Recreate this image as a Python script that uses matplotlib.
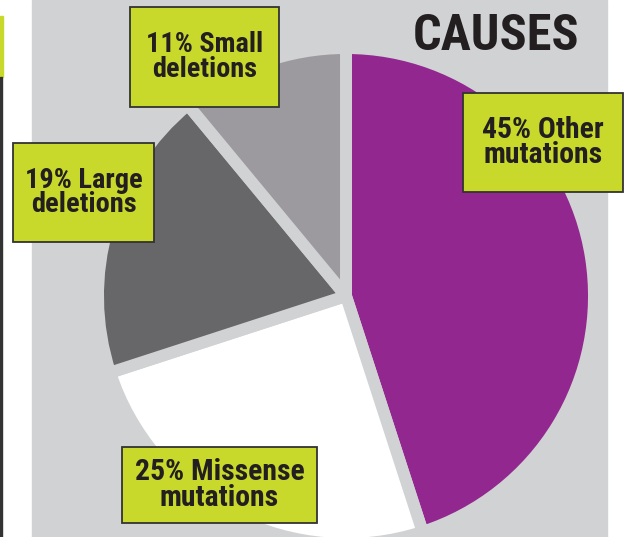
import matplotlib
matplotlib.use("Agg")
import matplotlib.pyplot as plt
from matplotlib import font_manager
from matplotlib.patches import Rectangle

# data
causes = ["Other\nmutations", "Missense\nmutations", "Large\ndeletions", "Small\ndeletions"]
shares = [45, 25, 19, 11]
colors = ["#92278f", "#ffffff", "#676669", "#9c9a9f"]

W, H = 630, 537
BG = "#d1d2d4"
LIME = "#c8d92c"
INK = "#231f20"

# a narrow face looks closer to the poster type, if one is around
installed = {f.name for f in font_manager.fontManager.ttflist}
narrow = [n for n in ["Liberation Sans Narrow", "DejaVu Sans Condensed",
                      "Roboto Condensed", "Open Sans Condensed"] if n in installed]
FONT = narrow[:1] + ["Liberation Sans", "DejaVu Sans"]


def up(y):
    # picture rows run downward, axes y runs upward
    return H - y


def fit(txt, width, size):
    # shrink the text until its widest line is about `width` pixels
    r = fig.canvas.get_renderer()
    w = txt.get_window_extent(r).width
    if w > width:
        txt.set_fontsize(size * width / w)


fig = plt.figure(figsize=(W / 100, H / 100), dpi=100)
ax = fig.add_axes([0, 0, 1, 1])

# grey panel and the thin rules on the far left
ax.add_patch(Rectangle((32, 0), 575, H, color=BG, zorder=0))
ax.add_patch(Rectangle((0, up(77)), 2.5, 61, color=LIME, zorder=0))
ax.add_patch(Rectangle((0, 0), 2, up(77), color="#333333", zorder=0))

ax.pie(shares, colors=colors, startangle=90, counterclock=False,
       center=(346, up(296)), radius=248,
       wedgeprops=dict(edgecolor=BG, linewidth=8.6, joinstyle="bevel"))

# label boxes: (x0, y0, x1, y1) in picture pixels, and the width of the text
boxes = {
    "Other\nmutations": (463, 93, 623, 192, 122),
    "Missense\nmutations": (122, 447, 317, 523, 170),
    "Large\ndeletions": (13, 143, 154, 242, 118),
    "Small\ndeletions": (130, 7, 279, 107, 117),
}
for name, pct in zip(causes, shares):
    x0, y0, x1, y1, tw = boxes[name]
    ax.add_patch(Rectangle((x0, up(y1)), x1 - x0, y1 - y0, facecolor=LIME,
                           edgecolor="#333333", linewidth=1.3, zorder=3))
    first, second = name.split("\n")
    t = ax.text((x0 + x1) / 2, up((y0 + y1) / 2), f"{pct}% {first}\n{second}",
                ha="center", va="center", fontsize=21.5, fontweight="bold",
                family=FONT, color=INK, linespacing=0.88, zorder=4)
    fit(t, tw, 21.5)

title = ax.text(496, up(37), "CAUSES", ha="center", va="center", fontsize=40,
                fontweight="bold", family=FONT, color=INK, zorder=4)
fit(title, 166, 40)

ax.set_xlim(0, W)
ax.set_ylim(0, H)
ax.axis("off")
fig.savefig("out.png", dpi=100)
